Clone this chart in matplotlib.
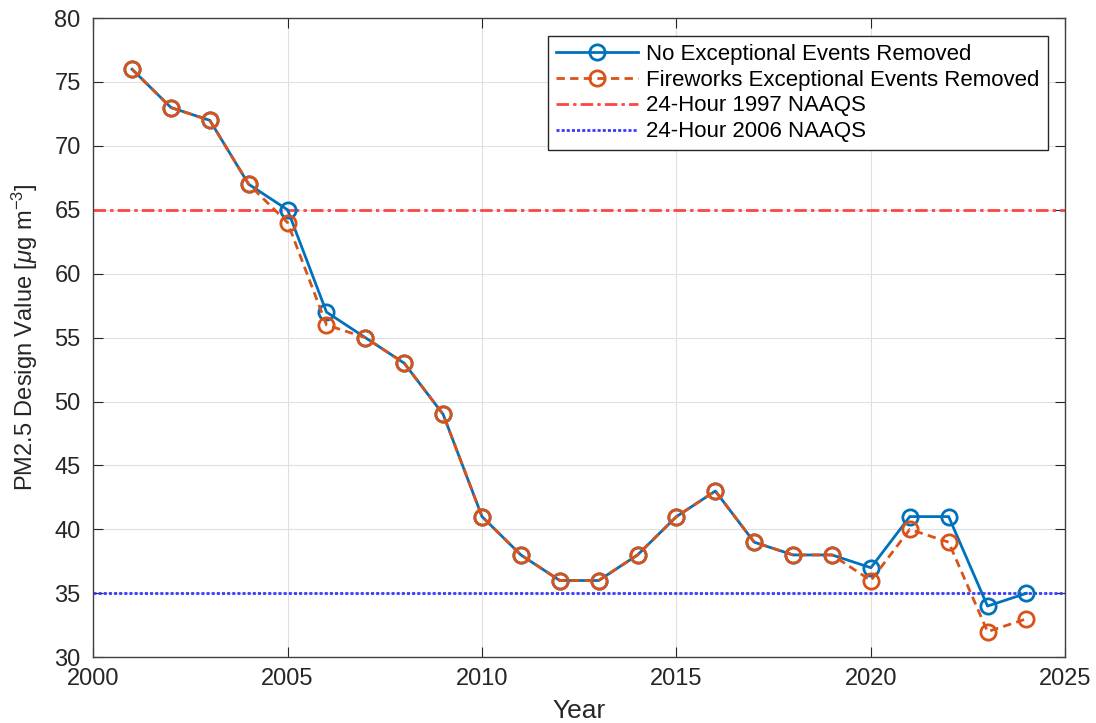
import matplotlib.pyplot as plt

plt.rcParams['font.family'] = ['Liberation Sans', 'DejaVu Sans']
plt.rcParams['mathtext.fontset'] = 'custom'
plt.rcParams['mathtext.rm'] = 'Liberation Sans'
plt.rcParams['mathtext.it'] = 'Liberation Sans:italic'

years = list(range(2001, 2025))
no_removed = [76, 73, 72, 67, 65, 57, 55, 53, 49, 41, 38, 36,
              36, 38, 41, 43, 39, 38, 38, 37, 41, 41, 34, 35]
fireworks_removed = [76, 73, 72, 67, 64, 56, 55, 53, 49, 41, 38, 36,
                     36, 38, 41, 43, 39, 38, 38, 36, 40, 39, 32, 33]
naaqs_1997 = 65
naaqs_2006 = 35

fig = plt.figure(figsize=(10.96, 7.23), dpi=100)
ax = fig.add_axes([0.085, 0.091, 0.887, 0.884])

ax.plot(years, no_removed, '-o', color='#0072BD', lw=2, ms=11,
        mfc='none', mew=2, label='No Exceptional Events Removed', zorder=3)
ax.plot(years, fireworks_removed, '--o', color='#D95319', lw=2, ms=11,
        mfc='none', mew=2, label='Fireworks Exceptional Events Removed',
        dashes=(3, 1.9), zorder=4)
ax.axhline(naaqs_1997, color='#FF4444', lw=2, linestyle=(0, (4.5, 1.5, 1.2, 1.5)),
           label='24-Hour 1997 NAAQS')
ax.axhline(naaqs_2006, color='#3A3AFF', lw=2, linestyle=(0, (1.1, 0.75)),
           label='24-Hour 2006 NAAQS')

ax.set_xlim(2000, 2025)
ax.set_ylim(30, 80)
ax.set_xticks(range(2000, 2026, 5))
ax.set_yticks(range(30, 81, 5))
ax.grid(True, color='#E0E0E0', lw=0.8)
ax.set_axisbelow(True)
ax.tick_params(direction='in', top=True, right=True, length=7,
               labelsize=17, colors='#262626')
ax.tick_params(axis='x', pad=7.5)
ax.tick_params(axis='y', pad=9)
for s in ax.spines.values():
    s.set_color('#404040')
    s.set_linewidth(1)

ax.set_xlabel('Year', fontsize=19, color='#262626')
ax.xaxis.set_label_coords(0.5, -0.066)
ax.set_ylabel(r'PM2.5 Design Value [$\mu$g m$^{-3}$]', fontsize=17,
              color='#262626')
ax.yaxis.set_label_coords(-0.055, 0.5)

leg = ax.legend(loc='upper right', fontsize=16, fancybox=False,
                edgecolor='#262626', framealpha=1, handlelength=3.7,
                handletextpad=0.36, borderpad=0.35, borderaxespad=0.8,
                labelspacing=0.22)
leg.get_frame().set_linewidth(1)

fig.savefig('out.png', dpi=100)
